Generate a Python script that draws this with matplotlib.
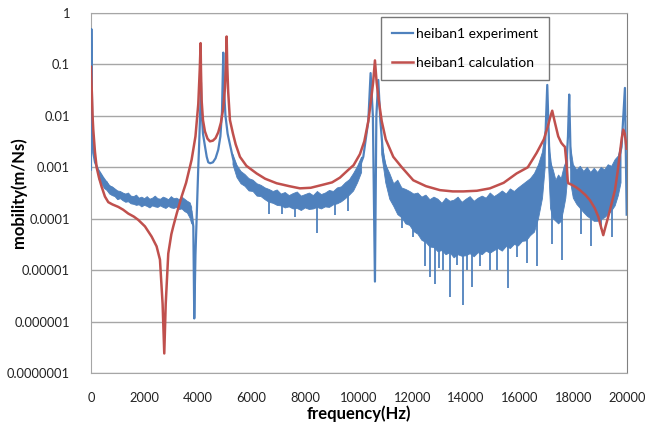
import numpy as np
import matplotlib
matplotlib.use('Agg')
import matplotlib.pyplot as plt

plt.rcParams['font.family'] = ['Lato', 'DejaVu Sans']

# heiban1 calculation (smooth curve)
calc_freq = [0, 30, 60, 87, 150, 212, 300, 398, 522, 647, 800, 1020, 1200, 1393, 1600, 1766,
             2015, 2264, 2450, 2575, 2674, 2736, 2790, 2885, 3000, 3072, 3200, 3383, 3550,
             3756, 3900, 4005, 4060, 4092, 4105, 4130, 4180, 4253, 4350, 4440, 4550, 4650,
             4750, 4850, 4937, 5000, 5040, 5063, 5085, 5120, 5186, 5300, 5400, 5560, 5800,
             6182, 6500, 6928, 7400, 7798, 8200, 8668, 9000, 9290, 9600, 9800, 10036,
             10200, 10350, 10450, 10530, 10597, 10660, 10740, 10850, 11000, 11281, 11600,
             12027, 12500, 13022, 13500, 13892, 14400, 14888, 15400, 15883, 16300, 16629,
             16900, 17050, 17150, 17212, 17300, 17436, 17550, 17622, 17685, 17740, 17790,
             17810, 17934, 18100, 18246, 18450, 18619, 18800, 18930, 19030, 19117, 19200,
             19303, 19450, 19552, 19650, 19739, 19810, 19863, 19920, 19988]
calc_mag = [9.0e-2, 3.2e-2, 1.0e-2, 5.4e-3, 2.0e-3, 1.0e-3, 6.3e-4, 4.2e-4, 2.7e-4, 2.1e-4,
            1.9e-4, 1.7e-4, 1.5e-4, 1.26e-4, 1.1e-4, 9.5e-5, 7.1e-5, 4.5e-5, 2.9e-5, 1.6e-5,
            2.2e-6, 2.4e-7, 2.2e-6, 2.1e-5, 5.0e-5, 7.1e-5, 1.26e-4, 2.7e-4, 5.0e-4, 1.4e-3,
            4.0e-3, 1.7e-2, 8.0e-2, 2.6e-1, 8.0e-2, 2.0e-2, 8.3e-3, 5.0e-3, 3.6e-3, 3.2e-3,
            3.3e-3, 3.7e-3, 4.8e-3, 7.4e-3, 1.4e-2, 3.5e-2, 1.0e-1, 3.5e-1, 1.0e-1, 3.0e-2,
            8.3e-3, 4.5e-3, 2.8e-3, 1.6e-3, 1.07e-3, 7.6e-4, 6.0e-4, 4.9e-4, 4.3e-4, 3.9e-4,
            4.0e-4, 4.6e-4, 5.1e-4, 6.3e-4, 8.9e-4, 1.1e-3, 1.8e-3, 3.2e-3, 7.9e-3, 2.0e-2,
            4.5e-2, 1.2e-1, 4.5e-2, 2.0e-2, 7.9e-3, 3.5e-3, 1.6e-3, 1.0e-3, 5.6e-4, 4.3e-4,
            3.6e-4, 3.4e-4, 3.4e-4, 3.5e-4, 3.9e-4, 5.0e-4, 7.6e-4, 1.0e-3, 1.9e-3, 3.5e-3,
            6.3e-3, 1.0e-2, 1.26e-2, 7.9e-3, 4.0e-3, 3.0e-3, 2.7e-3, 2.5e-3, 1.26e-3, 5.6e-4,
            4.9e-4, 4.6e-4, 4.1e-4, 3.6e-4, 2.9e-4, 2.3e-4, 1.6e-4, 1.1e-4, 7.0e-5, 4.8e-5,
            7.0e-5, 1.1e-4, 2.2e-4, 3.6e-4, 8.0e-4, 1.9e-3, 3.8e-3, 5.4e-3, 4.5e-3, 2.3e-3]

# heiban1 experiment: main trace through peaks and dips
exp_freq = [0, 15, 30, 50, 90, 150, 270, 450, 650, 1000, 1650, 2250, 2900, 3500, 3750, 3820,
            3855, 3900, 3942, 3980, 4005, 4040, 4067, 4090, 4104, 4130, 4180, 4253, 4320,
            4378, 4450, 4550, 4650, 4750, 4830, 4890, 4937, 4970, 5020, 5100, 5186, 5300,
            5560, 6180, 6800, 7400, 8000, 8700, 9300, 9800, 10162, 10350, 10435, 10520,
            10597, 10650, 10721, 10800, 10907, 11156, 11600, 12000, 12600, 13300, 13900,
            14500, 15100, 15800, 16400, 16800, 16950, 17027, 17100, 17300, 17560, 17700,
            17800, 17846, 17900, 18000, 18500, 19000, 19500, 19800, 19925, 19990]
exp_mag = [9.0e-4, 4.9e-1, 5.0e-2, 8.3e-3, 1.9e-3, 1.26e-3, 8.9e-4, 6.3e-4, 4.5e-4, 3.2e-4,
           2.4e-4, 2.2e-4, 2.2e-4, 2.0e-4, 1.4e-4, 7.1e-5, 1.15e-6, 2.0e-5, 9.5e-5, 4.0e-4,
           1.0e-3, 3.0e-3, 8.3e-3, 2.0e-2, 4.5e-2, 1.2e-2, 4.5e-3, 2.6e-3, 1.6e-3, 1.25e-3,
           1.2e-3, 1.25e-3, 1.5e-3, 2.2e-3, 4.0e-3, 1.2e-2, 1.7e-1, 3.0e-2, 1.0e-2, 4.5e-3,
           2.8e-3, 1.5e-3, 6.6e-4, 3.6e-4, 2.3e-4, 2.0e-4, 1.9e-4, 2.1e-4, 2.8e-4, 4.9e-4,
           1.6e-3, 8.0e-3, 6.8e-2, 1.0e-2, 6.0e-6, 1.0e-2, 5.0e-2, 8.0e-3, 1.6e-3, 5.0e-4,
           2.5e-4, 1.5e-4, 9.0e-5, 7.0e-5, 6.5e-5, 7.0e-5, 8.0e-5, 1.0e-4, 1.6e-4, 5.0e-4,
           3.0e-3, 4.0e-2, 2.0e-3, 3.0e-4, 1.8e-4, 5.0e-4, 4.0e-3, 2.6e-2, 1.5e-3, 5.0e-4,
           3.0e-4, 3.2e-4, 5.0e-4, 2.5e-3, 3.5e-2, 1.2e-4]

# noise band of the experiment, upper / lower edge as log10 of mobility
# (nan separates the noisy stretches)
band_freq = [300, 400, 500, 600, 700, 800, 900, 1000, 1100, 1200, 1300, 1400, 1500, 1600,
             1700, 1800, 1900, 2000, 2100, 2200, 2300, 2400, 2500, 2600, 2700, 2800, 2900,
             3000, 3100, 3200, 3300, 3400, 3500, 3600, 3700, 3760, 3770,
             5300, 5450, 5600, 5750, 5900, 6050, 6200, 6350, 6500, 6650, 6800, 6950, 7100,
             7250, 7400, 7550, 7700, 7850, 8000, 8150, 8300, 8450, 8600, 8750, 8900, 9050,
             9200, 9350, 9500, 9650, 9800, 9950, 10100, 10110,
             10850, 11000, 11150, 11300, 11450, 11600, 11750, 11900, 12050, 12200, 12350,
             12500, 12650, 12800, 12950, 13100, 13250, 13400, 13550, 13700, 13850, 14000,
             14150, 14300, 14450, 14600, 14750, 14900, 15050, 15200, 15350, 15500, 15650,
             15800, 15950, 16100, 16250, 16400, 16550, 16700, 16850, 16950, 16960,
             17080, 17150, 17250, 17350, 17450, 17550, 17650, 17720, 17790, 17800,
             17900, 18000, 18130, 18260, 18390, 18520, 18650, 18780, 18910, 19040, 19170,
             19300, 19430, 19560, 19680, 19780]
band_hi_dec = [-3.08, -3.15, -3.26, -3.28, -3.37, -3.38, -3.42, -3.46, -3.47, -3.50, -3.52,
               -3.50, -3.56, -3.57, -3.54, -3.60, -3.58, -3.61, -3.57, -3.62, -3.60, -3.56,
               -3.61, -3.62, -3.58, -3.60, -3.63, -3.57, -3.61, -3.60, -3.63, -3.58, -3.62,
               -3.66, -3.69, -3.78, np.nan,
               -2.75, -2.96, -3.08, -3.14, -3.22, -3.25, -3.32, -3.35, -3.40, -3.43, -3.47,
               -3.44, -3.52, -3.49, -3.55, -3.51, -3.48, -3.56, -3.53, -3.50, -3.55, -3.47,
               -3.53, -3.50, -3.45, -3.47, -3.40, -3.38, -3.30, -3.24, -3.12, -2.98, -2.80,
               np.nan,
               -2.50, -2.95, -3.12, -3.32, -3.25, -3.40, -3.43, -3.47, -3.52, -3.50, -3.58,
               -3.54, -3.63, -3.58, -3.62, -3.70, -3.60, -3.66, -3.64, -3.58, -3.68, -3.62,
               -3.57, -3.66, -3.60, -3.56, -3.60, -3.50, -3.57, -3.52, -3.46, -3.52, -3.42,
               -3.47, -3.40, -3.34, -3.28, -3.22, -3.12, -2.95, -2.70, -2.30, np.nan,
               -2.30, -2.90, -3.05, -3.25, -3.15, -3.22, -3.00, -2.90, -2.50, np.nan,
               -2.60, -2.95, -3.05, -2.98, -3.08, -3.00, -3.10, -3.02, -3.10, -3.00, -3.05,
               -2.95, -2.98, -2.85, -2.78, -2.55]
band_lo_dec = [-3.24, -3.32, -3.41, -3.45, -3.52, -3.55, -3.57, -3.63, -3.61, -3.65, -3.68,
               -3.67, -3.71, -3.72, -3.74, -3.73, -3.77, -3.74, -3.76, -3.79, -3.75, -3.77,
               -3.78, -3.75, -3.78, -3.80, -3.76, -3.79, -3.80, -3.78, -3.82, -3.81, -3.86,
               -3.89, -3.99, -4.10, np.nan,
               -2.95, -3.20, -3.32, -3.37, -3.46, -3.47, -3.56, -3.57, -3.63, -3.68, -3.70,
               -3.74, -3.75, -3.79, -3.77, -3.81, -3.80, -3.84, -3.79, -3.82, -3.81, -3.78,
               -3.81, -3.77, -3.78, -3.73, -3.71, -3.67, -3.61, -3.54, -3.46, -3.30, -3.10,
               np.nan,
               -2.75, -3.30, -3.62, -3.76, -3.92, -3.98, -4.10, -4.13, -4.25, -4.30, -4.42,
               -4.46, -4.55, -4.56, -4.64, -4.62, -4.70, -4.66, -4.76, -4.70, -4.73, -4.72,
               -4.68, -4.74, -4.66, -4.70, -4.63, -4.67, -4.62, -4.58, -4.63, -4.54, -4.58,
               -4.50, -4.53, -4.44, -4.43, -4.33, -4.26, -4.00, -3.60, -3.00, np.nan,
               -3.00, -3.80, -4.00, -4.05, -4.10, -4.05, -3.80, -3.60, -3.20, np.nan,
               -3.30, -3.60, -3.72, -3.80, -3.88, -3.95, -4.00, -4.05, -4.05, -4.02, -3.98,
               -3.92, -3.85, -3.75, -3.55, -3.30]

# single downward spikes of the experiment
spike_freq = [6650, 7115, 7600, 8420, 9105, 9600, 11592, 12027, 12462, 12648, 12835, 13000,
              13146, 13395, 13650, 13892, 14050, 14203, 14514, 14888, 15135, 15546, 15883,
              16256, 16629, 17200, 17560, 18300, 18641, 19050, 19427]
spike_low = [1.26e-4, 1.26e-4, 1.1e-4, 5.2e-5, 1.2e-4, 1.4e-4, 6.5e-5, 4.5e-5, 1.2e-5,
             7.4e-6, 5.5e-6, 1.1e-5, 1.0e-5, 3.0e-6, 1.26e-5, 2.1e-6, 1.0e-5, 4.8e-6, 1.2e-5,
             1.0e-5, 1.0e-5, 4.5e-6, 1.8e-5, 1.35e-5, 1.2e-5, 3.2e-5, 1.6e-5, 5.0e-5, 2.9e-5,
             6.3e-5, 4.5e-5]

yticks = [1e-7, 1e-6, 1e-5, 1e-4, 1e-3, 1e-2, 1e-1, 1]
ytick_labels = ['0.0000001', '0.000001', '0.00001', '0.0001', '0.001', '0.01', '0.1', '1']
xticks = [0, 2000, 4000, 6000, 8000, 10000, 12000, 14000, 16000, 18000, 20000]

blue = '#4F81BD'
red = '#C0504D'

fig = plt.figure(figsize=(6.45, 4.28), dpi=100)
ax = fig.add_axes([0.141, 0.1285, 0.831, 0.841])

bf = np.array(band_freq, dtype=float)
bh = 10.0 ** np.array(band_hi_dec)
bl = 10.0 ** np.array(band_lo_dec)
ax.fill_between(bf, bl, bh, color=blue, lw=0.6, zorder=2)
ok = ~np.isnan(bl)
spike_top = np.interp(spike_freq, bf[ok], bl[ok]) * 1.3
ax.vlines(spike_freq, spike_low, spike_top, color=blue, lw=1.3, zorder=2)
ax.plot(exp_freq, exp_mag, color=blue, lw=1.6, zorder=3, label='heiban1 experiment')
ax.plot(calc_freq, calc_mag, color=red, lw=1.8, zorder=4, label='heiban1 calculation')

ax.set_yscale('log')
ax.set_xlim(0, 20000)
ax.set_ylim(1e-7, 1)
ax.set_yticks(yticks)
ax.set_yticklabels(ytick_labels)
ax.minorticks_off()
ax.set_xticks(xticks)
ax.tick_params(length=0, labelsize=9.3, colors='#222222')
ax.tick_params(axis='y', pad=15)
ax.tick_params(axis='x', pad=14)
ax.grid(axis='y', color='#A6A6A6', lw=1)
ax.set_axisbelow(True)
for s in ['left', 'bottom', 'top']:
    ax.spines[s].set_color('#A6A6A6')
ax.spines['right'].set_color('#808080')

ax.set_xlabel('frequency(Hz)', fontsize=12, fontweight='bold', labelpad=1)
fig.text(0.029, 0.549, 'mobility(m/Ns)', fontsize=12, fontweight='bold',
         rotation=90, ha='center', va='center')

leg = ax.legend(loc='upper right', bbox_to_anchor=(0.851, 0.960), bbox_transform=fig.transFigure,
                fancybox=False, edgecolor='#555555', fontsize=10, handlelength=1.5,
                handletextpad=0.2, labelspacing=1.2, borderpad=0.8, borderaxespad=0)
leg.get_frame().set_linewidth(1.0)

fig.savefig('out.png', dpi=100)
